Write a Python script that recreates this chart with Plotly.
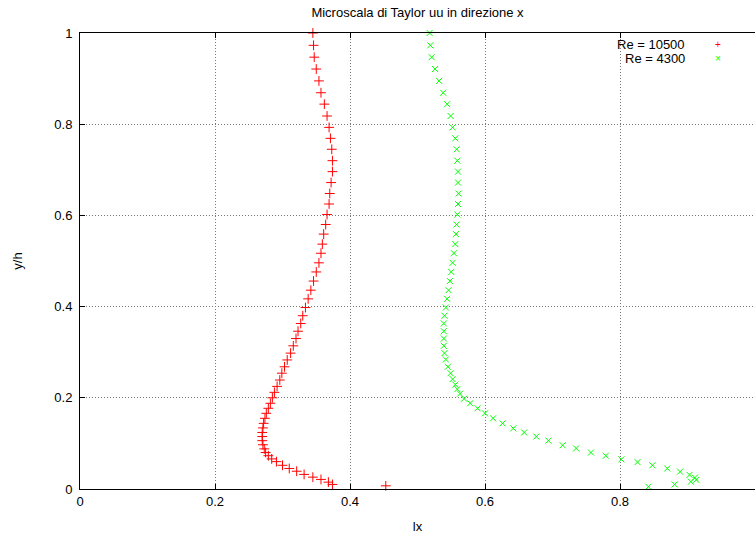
import plotly.graph_objects as go

# Re = 10500 series
y_re10500 = [1.000, 0.973, 0.947, 0.921, 0.895, 0.869, 0.844, 0.818, 0.793, 0.769,
             0.745, 0.720, 0.696, 0.672, 0.648, 0.625, 0.602, 0.580, 0.559, 0.537,
             0.517, 0.496, 0.476, 0.456, 0.436, 0.417, 0.398, 0.380, 0.363, 0.346,
             0.330, 0.314, 0.298, 0.283, 0.268, 0.254, 0.239, 0.225, 0.212, 0.200,
             0.188, 0.177, 0.166, 0.155, 0.144, 0.134, 0.124, 0.115, 0.106, 0.097,
             0.088, 0.080, 0.073, 0.066, 0.060, 0.052, 0.045, 0.039, 0.032, 0.026,
             0.021, 0.015, 0.010, 0.007]
lx_re10500 = [0.345, 0.346, 0.347, 0.350, 0.354, 0.357, 0.362, 0.366, 0.369, 0.371,
              0.373, 0.374, 0.374, 0.372, 0.370, 0.369, 0.366, 0.364, 0.361, 0.359,
              0.357, 0.354, 0.350, 0.346, 0.342, 0.338, 0.334, 0.330, 0.327, 0.323,
              0.320, 0.316, 0.312, 0.307, 0.303, 0.299, 0.296, 0.292, 0.288, 0.285,
              0.282, 0.279, 0.276, 0.274, 0.272, 0.271, 0.270, 0.270, 0.270, 0.271,
              0.273, 0.275, 0.279, 0.284, 0.291, 0.300, 0.310, 0.321, 0.332, 0.345,
              0.357, 0.368, 0.374, 0.453]

# Re = 4300 series
y_re4300 = [1.000, 0.973, 0.947, 0.921, 0.895, 0.869, 0.844, 0.818, 0.793, 0.769,
            0.745, 0.720, 0.696, 0.672, 0.648, 0.625, 0.602, 0.580, 0.559, 0.537,
            0.517, 0.496, 0.476, 0.456, 0.436, 0.417, 0.398, 0.380, 0.363, 0.346,
            0.330, 0.314, 0.298, 0.284, 0.268, 0.254, 0.241, 0.229, 0.219, 0.209,
            0.198, 0.188, 0.177, 0.166, 0.155, 0.144, 0.133, 0.124, 0.115, 0.106,
            0.096, 0.089, 0.080, 0.073, 0.065, 0.059, 0.052, 0.045, 0.038, 0.031,
            0.025, 0.020, 0.016, 0.010, 0.005]
lx_re4300 = [0.518, 0.519, 0.521, 0.526, 0.532, 0.538, 0.544, 0.549, 0.552, 0.556,
             0.558, 0.559, 0.560, 0.560, 0.561, 0.560, 0.559, 0.558, 0.557, 0.556,
             0.554, 0.552, 0.550, 0.548, 0.546, 0.544, 0.542, 0.540, 0.539, 0.539,
             0.539, 0.539, 0.540, 0.542, 0.545, 0.549, 0.552, 0.556, 0.559, 0.563,
             0.569, 0.578, 0.589, 0.600, 0.612, 0.626, 0.642, 0.658, 0.676, 0.694,
             0.715, 0.735, 0.757, 0.779, 0.802, 0.826, 0.848, 0.870, 0.889, 0.903,
             0.911, 0.913, 0.905, 0.881, 0.842]

x_ticks = [0, 0.2, 0.4, 0.6, 0.8]
x_ticklabels = ["0", "0.2", "0.4", "0.6", "0.8"]
y_ticks = [0, 0.2, 0.4, 0.6, 0.8, 1]
y_ticklabels = ["0", "0.2", "0.4", "0.6", "0.8", "1"]
series_names = ["Re = 10500", "Re = 4300"]

FONT = "Liberation Sans, Arial, sans-serif"
RED = "#ff0000"
GREEN = "#00ff00"

fig = go.Figure()
fig.add_trace(go.Scatter(
    x=lx_re10500, y=y_re10500, mode="markers", name=series_names[0],
    marker=dict(symbol="cross-thin", size=7, color=RED, line=dict(color=RED, width=1)),
    showlegend=False, cliponaxis=False))
fig.add_trace(go.Scatter(
    x=lx_re4300, y=y_re4300, mode="markers", name=series_names[1],
    marker=dict(symbol="x-thin", size=6, color=GREEN, line=dict(color=GREEN, width=1)),
    showlegend=False, cliponaxis=False))

# gnuplot-style key: text right-aligned, symbol to the right
for i, (name, sym, col) in enumerate(zip(series_names, ["+", "\u00d7"], [RED, GREEN])):
    yy = 1 - (12 + 13 * i) / 456
    fig.add_annotation(xref="paper", yref="paper", x=(686 - 80) / 675, y=yy,
                       text=name, showarrow=False, xanchor="right", yanchor="middle",
                       borderpad=0, font=dict(family=FONT, size=13, color="black"))
    fig.add_annotation(xref="paper", yref="paper", x=(718 - 80) / 675, y=yy,
                       text=sym, showarrow=False, xanchor="center", yanchor="middle",
                       borderpad=0, font=dict(family=FONT, size=10, color=col))

axis_common = dict(
    showline=True, linecolor="black", linewidth=1,
    ticks="inside", ticklen=5, tickcolor="black", tickwidth=1,
    showgrid=True, gridcolor="#777777", griddash="1px,2px", gridwidth=1,
    zeroline=False,
    tickfont=dict(family=FONT, size=13, color="black"),
)

fig.update_layout(
    width=755, height=536,
    margin=dict(l=80, r=0, t=33, b=47),
    paper_bgcolor="white", plot_bgcolor="white",
    title=dict(text="Microscala di Taylor uu in direzione x", x=(80 + 755) / 2 / 755,
               xanchor="center", y=1 - 12 / 536, yanchor="middle",
               font=dict(family=FONT, size=13, color="black")),
    xaxis=dict(axis_common, range=[0, 1.0], tickvals=x_ticks, ticktext=x_ticklabels,
               mirror="ticks",
               title=dict(text="lx", font=dict(family=FONT, size=13, color="black"), standoff=14)),
    yaxis=dict(axis_common, range=[0, 1], tickvals=y_ticks, ticktext=y_ticklabels,
               ticklabelstandoff=4,
               title=dict(text="y/h", font=dict(family=FONT, size=13, color="black"), standoff=28)),
)

fig.write_html("out.html")
